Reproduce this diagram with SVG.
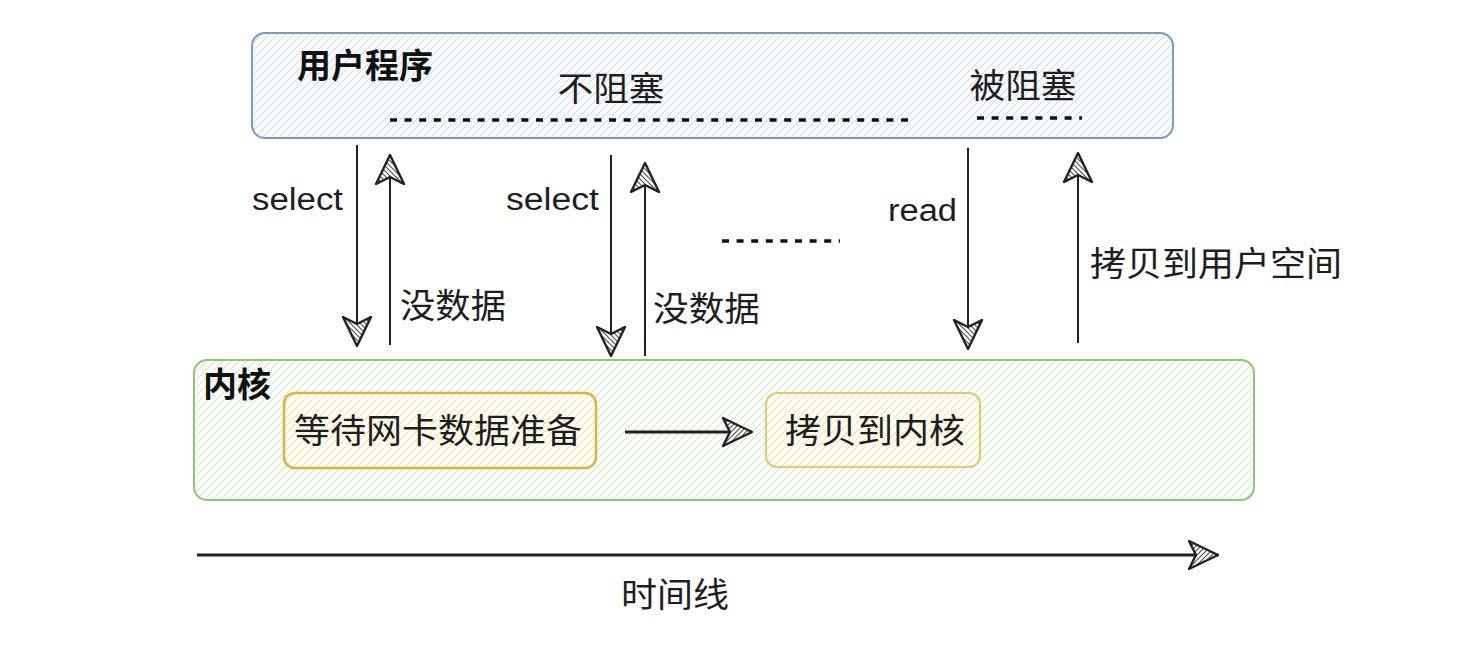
<svg xmlns="http://www.w3.org/2000/svg" width="1482" height="650" viewBox="0 0 1482 650">
<style>
.t{font-family:"Noto Sans CJK SC","Noto Sans",sans-serif;font-size:34px;fill:#1e1e1e}
.l{font-family:"Liberation Sans","Noto Sans",sans-serif;font-size:31px;fill:#1e1e1e}
.b{font-weight:bold;fill:#111}
.ar{stroke:#222;stroke-width:2;fill:none;marker-end:url(#ah)}
.dot{stroke:#111;stroke-width:3.5;stroke-dasharray:7 7.6;fill:none}
</style>
<defs>
<pattern id="hb" patternUnits="userSpaceOnUse" width="8" height="8"><path d="M0,8 L8,0 M-2,2 L2,-2 M6,10 L10,6" stroke="#ccdaee" stroke-width="1"/></pattern>
<pattern id="hg" patternUnits="userSpaceOnUse" width="8" height="8"><path d="M0,8 L8,0 M-2,2 L2,-2 M6,10 L10,6" stroke="#d6e6cd" stroke-width="1"/></pattern>
<pattern id="hy" patternUnits="userSpaceOnUse" width="8" height="8"><path d="M0,8 L8,0 M-2,2 L2,-2 M6,10 L10,6" stroke="#f4e4b4" stroke-width="1"/></pattern>
<pattern id="ha" patternUnits="userSpaceOnUse" width="5" height="5"><rect width="5" height="5" fill="#fff"/><path d="M0,5 L5,0 M-1,1 L1,-1 M4,6 L6,4" stroke="#555" stroke-width="1.2"/></pattern>
<marker id="ah" viewBox="0 0 32 32" refX="30" refY="16" markerWidth="32" markerHeight="32" markerUnits="userSpaceOnUse" orient="auto">
<path d="M30,16 L1,2 L8,16 L1,30 Z" fill="url(#ha)" stroke="#222" stroke-width="2.4" stroke-linejoin="round"/>
</marker>
</defs>
<rect width="1482" height="650" fill="#fff"/>

<g id="user">
<rect x="252" y="33" width="921" height="105" rx="13" fill="#f8fafd"/>
<rect x="252" y="33" width="921" height="105" rx="13" fill="url(#hb)" stroke="#7f99c4" stroke-width="2"/>
<text class="t b" x="297" y="78">用户程序</text>
<text class="t" x="611" y="101" text-anchor="middle" textLength="107" lengthAdjust="spacingAndGlyphs">不阻塞</text>
<text class="t" x="1023" y="98" text-anchor="middle" textLength="107" lengthAdjust="spacingAndGlyphs">被阻塞</text>
<line class="dot" x1="390" y1="120" x2="910" y2="120"/>
<line class="dot" x1="977" y1="118" x2="1082" y2="118"/>
</g>

<g id="kernel">
<rect x="194" y="360" width="1060" height="140" rx="13" fill="#fafcf8"/>
<rect x="194" y="360" width="1060" height="140" rx="13" fill="url(#hg)" stroke="#93c47d" stroke-width="2"/>
<text class="t b" x="203" y="397">内核</text>
</g>

<g id="wait">
<rect x="284" y="393" width="312" height="75" rx="11" fill="#fffcf2"/>
<rect x="284" y="393" width="312" height="75" rx="11" fill="url(#hy)" stroke="#d9b340" stroke-width="2.5"/>
<text class="t" x="438" y="443" text-anchor="middle" textLength="288" lengthAdjust="spacingAndGlyphs">等待网卡数据准备</text>
</g>

<g id="copyk">
<rect x="766" y="393" width="214" height="74" rx="11" fill="#fffcf2"/>
<rect x="766" y="393" width="214" height="74" rx="11" fill="url(#hy)" stroke="#e0c878" stroke-width="2"/>
<text class="t" x="875" y="443" text-anchor="middle" textLength="180" lengthAdjust="spacingAndGlyphs">拷贝到内核</text>
</g>

<g id="connectors">
<line class="ar" x1="357" y1="145" x2="357" y2="346"/>
<line class="ar" x1="390" y1="345" x2="390" y2="155"/>
<line class="ar" x1="611" y1="155" x2="611" y2="356"/>
<line class="ar" x1="645" y1="356" x2="645" y2="163"/>
<line class="ar" x1="968" y1="148" x2="968" y2="349"/>
<line class="ar" x1="1078" y1="343" x2="1078" y2="153"/>
<line class="ar" x1="625" y1="432" x2="752" y2="432" style="stroke-width:2.8"/>
<line class="ar" x1="197" y1="555" x2="1218" y2="555" style="stroke-width:3"/>
<line class="dot" x1="722" y1="241" x2="840" y2="241"/>
</g>

<g id="labels">
<text class="l" x="252" y="210" textLength="91" lengthAdjust="spacingAndGlyphs">select</text>
<text class="l" x="506" y="210" textLength="93" lengthAdjust="spacingAndGlyphs">select</text>
<text class="l" x="888" y="221" textLength="69" lengthAdjust="spacingAndGlyphs">read</text>
<text class="t" x="400" y="318" textLength="106" lengthAdjust="spacingAndGlyphs">没数据</text>
<text class="t" x="653" y="321" textLength="107" lengthAdjust="spacingAndGlyphs">没数据</text>
<text class="t" x="1090" y="276" textLength="252" lengthAdjust="spacingAndGlyphs">拷贝到用户空间</text>
<text class="t" x="675" y="607" text-anchor="middle" textLength="108" lengthAdjust="spacingAndGlyphs">时间线</text>
</g>
</svg>
